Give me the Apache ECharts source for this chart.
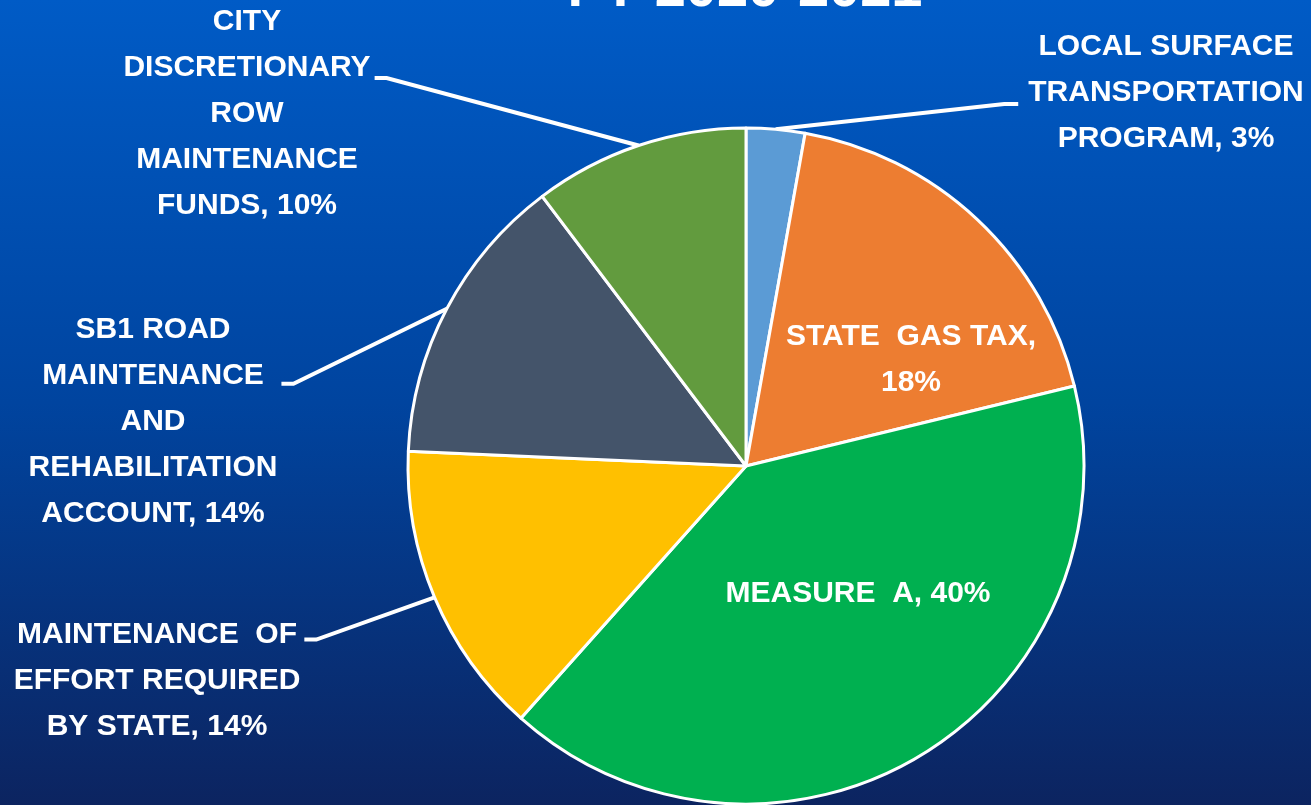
<!DOCTYPE html>
<html>
<head>
<meta charset="utf-8">
<script src="https://cdn.jsdelivr.net/npm/echarts@6/dist/echarts.min.js"></script>
<style>
  html, body { margin: 0; padding: 0; }
  #chart { width: 1311px; height: 805px; }
</style>
</head>
<body>
<div id="chart"></div>
<script>
// data
const titleText = 'FY 2020-2021'
const categories = [
  'LOCAL SURFACE\nTRANSPORTATION\nPROGRAM',
  'STATE  GAS TAX',
  'MEASURE  A',
  'MAINTENANCE  OF\nEFFORT REQUIRED\nBY STATE',
  'SB1 ROAD\nMAINTENANCE\nAND\nREHABILITATION\nACCOUNT',
  'CITY\nDISCRETIONARY\nROW\nMAINTENANCE\nFUNDS'
]
const shares = [2.8, 18.4, 40.4, 14.1, 14.0, 10.3]
const colors = ['#5B9BD5', '#ED7D31', '#00B050', '#FFC000', '#44546A', '#629B3E']
const insideLabel = [false, true, true, false, false, false]

// where each label block sits (center), and which text row the leader line meets
const labelCenters = [[1166, 93], [911, 360], [858, 594], [157, 681], [153, 422], [247, 114]]
const leaderRow = [1.74, 0, 0, 0.6, 1.67, 1.72]
const LINE_H = 46

const chart = echarts.init(document.getElementById('chart'))

const seriesData = categories.map((name, i) => ({
  name: name,
  value: shares[i],
  itemStyle: { color: colors[i] },
  label: { position: insideLabel[i] ? 'inside' : 'outside' },
  labelLine: { show: !insideLabel[i] }
}))

const option = {
  backgroundColor: {
    type: 'linear', x: 0, y: 0, x2: 0, y2: 1,
    colorStops: [
      { offset: 0, color: '#005BC6' },
      { offset: 0.5, color: '#00449F' },
      { offset: 1, color: '#0C2460' }
    ]
  },
  graphic: [{
    type: 'text',
    x: 745,
    y: 19,
    style: {
      text: titleText,
      fill: '#FFFFFF',
      font: 'bold 56px "Liberation Sans", Arial, sans-serif',
      textAlign: 'center',
      textVerticalAlign: 'bottom'
    }
  }],
  series: [{
    type: 'pie',
    center: [746, 466],
    radius: 338,
    startAngle: 90,
    clockwise: true,
    animation: false,
    itemStyle: { borderColor: '#FFFFFF', borderWidth: 3 },
    label: {
      color: '#FFFFFF',
      fontFamily: '"Liberation Sans", Arial, sans-serif',
      fontWeight: 'bold',
      fontSize: 30,
      lineHeight: LINE_H,
      align: 'center',
      formatter: (p) => {
        const pct = Math.round(p.percent) + '%'
        if (p.dataIndex === 1) return p.name + ',\n' + pct
        return p.name + ', ' + pct
      }
    },
    labelLine: {
      show: true,
      lineStyle: { color: '#FFFFFF', width: 4 }
    },
    labelLayout: (params) => {
      const i = params.dataIndex
      const [cx, cy] = labelCenters[i]
      const w = params.labelRect.width
      const h = params.labelRect.height
      const out = { x: cx, y: cy, align: 'center', verticalAlign: 'middle' }
      if (!insideLabel[i] && params.labelLinePoints) {
        const p0 = params.labelLinePoints[0]
        const top = cy - h / 2
        const ly = top + leaderRow[i] * LINE_H
        if (cx > 746) {
          const left = cx - w / 2
          out.labelLinePoints = [p0, [left - 24, ly], [left - 10, ly]]
        } else {
          const right = cx + w / 2
          out.labelLinePoints = [p0, [right + 16, ly], [right + 4, ly]]
        }
      }
      return out
    },
    data: seriesData
  }]
}

chart.setOption(option)
</script>
</body>
</html>
